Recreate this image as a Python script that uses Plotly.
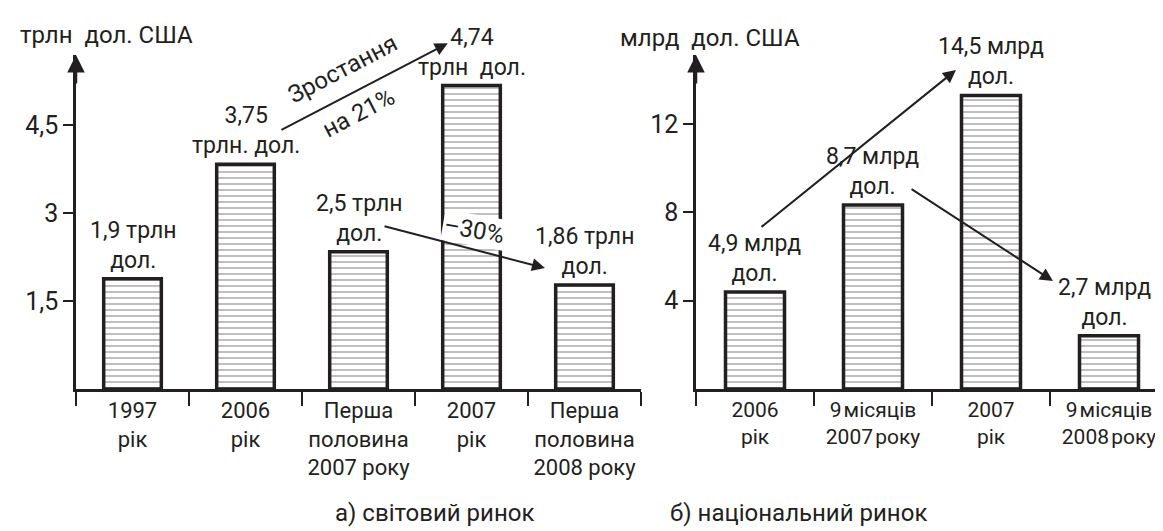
import plotly.graph_objects as go

# а) світовий ринок
world_cats = ['1997<br>рік', '2006<br>рік', 'Перша<br>половина<br>2007 року', '2007<br>рік',
              'Перша<br>половина<br>2008 року']
world_vals = [1.88, 3.83, 2.34, 5.17, 1.77]
world_labels = ['1,9 трлн<br>дол.', '3,75<br>трлн. дол.', '2,5 трлн<br>дол.', '4,74<br>трлн\u00a0 дол.',
                '1,86 трлн<br>дол.']
world_ticks = [1.5, 3, 4.5]
world_ticktext = ['1,5', '3', '4,5']

# б) національний ринок
nat_cats = ['2006<br>рік', '9\u200aмісяців<br>2007\u200aроку', '2007<br>рік', '9\u200aмісяців<br>2008\u200aроку']
nat_vals = [4.39, 8.33, 13.3, 2.41]
nat_labels = ['4,9 млрд<br>дол.', '8,7 млрд<br>дол.', '14,5 млрд<br>дол.', '2,7 млрд<br>дол.']
nat_ticks = [4, 8, 12]
nat_ticktext = ['4', '8', '12']

W, H = 1163, 531
FONT = 'Roboto, Liberation Sans Narrow, sans-serif'
INK = '#231f20'

hatch = dict(shape='-', size=6, solidity=0.22, fgcolor='#3a3a3a', bgcolor='white', fillmode='overlay')

fig = go.Figure()
fig.add_trace(go.Bar(x=world_cats, y=world_vals, width=0.51, xaxis='x', yaxis='y',
                     marker=dict(color='white', pattern=hatch, line=dict(color=INK, width=3.5))))
fig.add_trace(go.Bar(x=nat_cats, y=nat_vals, width=0.5, xaxis='x2', yaxis='y2',
                     marker=dict(color='white', pattern=hatch, line=dict(color=INK, width=3.5))))

xcommon = dict(type='category', showline=True, linecolor=INK, linewidth=2.5, ticks='outside',
               tickson='boundaries', ticklen=14, tickwidth=2, tickcolor=INK, showgrid=False,
               zeroline=False, tickangle=0, tickfont=dict(size=22, color=INK), automargin=False,
               fixedrange=True)
ycommon = dict(showline=True, linecolor=INK, linewidth=2.5, ticks='outside', ticklen=10, tickwidth=2,
               tickcolor=INK, showgrid=False, zeroline=False, tickfont=dict(size=25, color=INK),
               automargin=False, fixedrange=True)

ydom = [1 - 381 / H, 1 - 47 / H]
fig.update_layout(
    width=W, height=H, margin=dict(l=0, r=0, t=0, b=0),
    paper_bgcolor='white', plot_bgcolor='white', showlegend=False,
    font=dict(family=FONT, color=INK),
    xaxis=dict(xcommon, domain=[68 / W, 633 / W], anchor='y', range=[-0.5, 4.5]),
    yaxis=dict(ycommon, domain=ydom, anchor='x', range=[0, 5.69], tickvals=world_ticks,
               ticktext=world_ticktext),
    xaxis2=dict(xcommon, domain=[688 / W, 1160 / W], anchor='y2', range=[-0.5, 3.5],
                tickfont=dict(size=21, color=INK)),
    yaxis2=dict(ycommon, domain=ydom, anchor='x2', range=[0, 15.13], tickvals=nat_ticks,
                ticktext=nat_ticktext),
)

ann = []
# value labels over bars
for cats, vals, labels, xr, yr in [(world_cats, world_vals, world_labels, 'x', 'y'),
                                   (nat_cats, nat_vals, nat_labels, 'x2', 'y2')]:
    for c, v, t in zip(cats, vals, labels):
        ann.append(dict(x=c, y=v, xref=xr, yref=yr, text=t, showarrow=False, yanchor='bottom',
                        yshift=3, xshift=-5 if t.startswith('2,7') else 0, font=dict(size=23)))

# arrow heads on the vertical axes
for xr, yr in [('x domain', 'y domain'), ('x2 domain', 'y2 domain')]:
    ann.append(dict(x=0, y=1, xref=xr, yref=yr, text='', showarrow=True, ax=0, ay=30,
                    arrowhead=2, arrowsize=1.4, arrowwidth=2.5, arrowcolor=INK))

# axis unit titles
ann.append(dict(x=10 / W, y=1 - 27 / H, xref='paper', yref='paper', text='трлн\u00a0 дол. США',
                showarrow=False, xanchor='left', yanchor='middle', font=dict(size=24)))
ann.append(dict(x=610 / W, y=1 - 30 / H, xref='paper', yref='paper', text='млрд\u00a0 дол. США',
                showarrow=False, xanchor='left', yanchor='middle', font=dict(size=24)))

# captions
ann.append(dict(x=325 / W, y=1 - 505 / H, xref='paper', yref='paper', text='а) світовий ринок',
                showarrow=False, yanchor='middle', font=dict(size=24)))
ann.append(dict(x=921 / W, y=1 - 505 / H, xref='paper', yref='paper', text='б) національний ринок',
                showarrow=False, yanchor='middle', font=dict(size=24)))

# trend arrows (tail -> tip, in axis units)
arrow = dict(text='', showarrow=True, arrowhead=2, arrowsize=1.3, arrowwidth=2, arrowcolor=INK)
ann.append(dict(arrow, xref='x', yref='y', axref='x', ayref='y', ax=1.305, ay=4.40, x=2.79, y=5.89))
ann.append(dict(arrow, xref='x', yref='y', axref='x', ayref='y', ax=2.217, ay=2.78, x=3.65, y=2.06))
ann.append(dict(arrow, xref='x2', yref='y2', axref='x2', ayref='y2', ax=0.042, ay=7.29, x=1.703, y=14.45))
ann.append(dict(arrow, xref='x2', yref='y2', axref='x2', ayref='y2', ax=1.314, ay=9.10, x=2.525, y=4.89))

# arrow captions
ann.append(dict(x=1.86, y=5.45, xref='x', yref='y', text='Зростання', showarrow=False, textangle=-27.6,
                font=dict(size=24)))
ann.append(dict(x=2.0, y=4.70, xref='x', yref='y', text='на 21%', showarrow=False, textangle=-27.6,
                font=dict(size=24)))
ann.append(dict(x=3.02, y=2.71, xref='x', yref='y', text='–30%', showarrow=False, textangle=10,
                bgcolor='white', font=dict(size=24)))

fig.update_layout(annotations=ann)
fig.write_html("out.html")
